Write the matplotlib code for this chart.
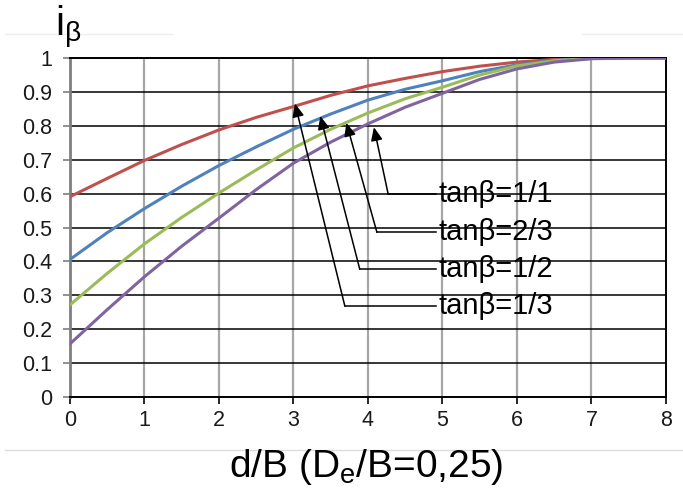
import matplotlib.pyplot as plt
from matplotlib.lines import Line2D

plt.rcParams['font.family'] = ['Liberation Sans', 'DejaVu Sans']
plt.rcParams['mathtext.fontset'] = 'custom'
plt.rcParams['mathtext.rm'] = 'Liberation Sans'

# d/B values and i_beta curves
d_over_b = [0, 0.5, 1, 1.5, 2, 2.5, 3, 3.5, 4, 4.5, 5, 5.5, 6, 6.5, 7, 7.5, 8]
i_1_1 = [0.591, 0.645, 0.698, 0.745, 0.788, 0.825, 0.857, 0.890, 0.918,
         0.940, 0.960, 0.976, 0.988, 0.996, 1.0, 1.0, 1.0]
i_2_3 = [0.406, 0.485, 0.556, 0.622, 0.683, 0.738, 0.790, 0.835, 0.876,
         0.908, 0.933, 0.960, 0.980, 0.993, 0.999, 1.0, 1.0]
i_1_2 = [0.272, 0.365, 0.452, 0.530, 0.602, 0.670, 0.735, 0.790, 0.838,
         0.880, 0.914, 0.950, 0.977, 0.992, 0.999, 1.0, 1.0]
i_1_3 = [0.157, 0.258, 0.355, 0.445, 0.528, 0.612, 0.690, 0.752, 0.806,
         0.855, 0.896, 0.937, 0.968, 0.988, 0.998, 1.0, 1.0]

labels = ['tanβ=1/1', 'tanβ=2/3', 'tanβ=1/2', 'tanβ=1/3']
series = [i_1_1, i_2_3, i_1_2, i_1_3]
colors = ['#c0504d', '#4f81bd', '#9bbb59', '#8064a2']

# annotation geometry: arrow tip on curve, elbow corner, label y
tips = [(4.08, 0.796), (3.71, 0.809), (3.36, 0.829), (3.02, 0.866)]
corners = [(4.27, 0.600), (4.12, 0.486), (3.89, 0.377), (3.69, 0.268)]
label_x = 4.95

fig = plt.figure(figsize=(6.83, 4.92), dpi=100)
ax = fig.add_axes([0.1025, 0.193, 0.8725, 0.689])

for y, c in zip(series, colors):
    ax.plot(d_over_b, y, color=c, lw=2.2, zorder=3)

ax.set_xlim(0, 8)
ax.set_ylim(0, 1)
ax.set_xticks(range(9))
ax.set_yticks([i / 10 for i in range(11)])
ax.set_yticklabels(['0', '0.1', '0.2', '0.3', '0.4', '0.5', '0.6', '0.7', '0.8', '0.9', '1'])

for x in range(1, 8):
    ax.axvline(x, color='#a6a6a6', lw=1.6, zorder=1)
for i in range(1, 11):
    ax.axhline(i / 10, color='black', lw=1.1, zorder=1)

ax.spines['left'].set_color('#7f7f7f')
ax.spines['left'].set_linewidth(2)
ax.spines['bottom'].set_linewidth(1.4)
ax.spines['right'].set_linewidth(1.4)
ax.spines['top'].set_linewidth(1.4)
ax.tick_params(direction='out', length=5, width=1.2, labelsize=15.5)
ax.tick_params(axis='y', colors='#7f7f7f', labelcolor='#1a1a1a', pad=8)
ax.tick_params(axis='x', labelcolor='#1a1a1a', pad=4.5)

for lab, tip, corner in zip(labels, tips, corners):
    ax.plot([corner[0], label_x - 0.03], [corner[1], corner[1]], color='black', lw=1.1, zorder=4)
    ax.annotate('', xy=tip, xytext=corner,
                arrowprops=dict(arrowstyle='-|>,head_length=0.8,head_width=0.35',
                                color='black', lw=1.1, shrinkA=0, shrinkB=0),
                zorder=5)
    ax.text(label_x, corner[1], lab, fontsize=21, va='center', ha='left', zorder=5)

fig.text(0.081, 0.945, r'$\mathregular{i_{\beta}}$', fontsize=29, ha='left', va='center')
fig.text(0.536, 0.05, r'd/B (D$\mathregular{_e}$/B=0,25)', fontsize=28, ha='center', va='center')

fig.add_artist(Line2D([0.007, 0.252], [0.931, 0.931], color='#eeeeee', lw=1))
fig.add_artist(Line2D([0.852, 1.0], [0.931, 0.931], color='#eeeeee', lw=1))
fig.add_artist(Line2D([0.007, 1.0], [0.085, 0.085], color='#dddddd', lw=1))

fig.savefig('out.png', dpi=100)
